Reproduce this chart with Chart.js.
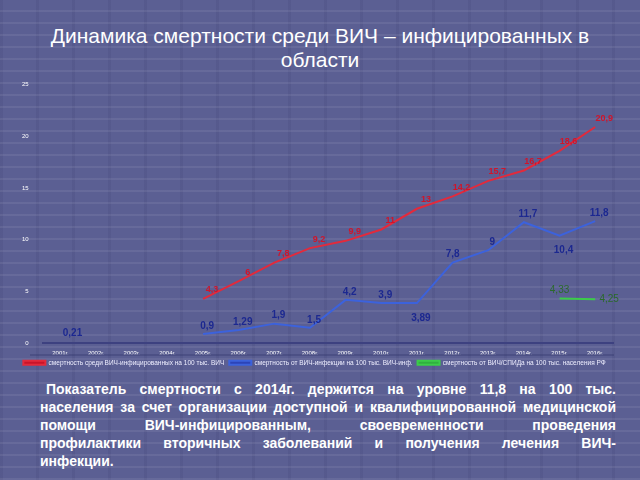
<!DOCTYPE html>
<html>
<head>
<meta charset="utf-8">
<script src="https://cdn.jsdelivr.net/npm/chart.js@4"></script>
<style>
  html, body { margin: 0; padding: 0; }
  body {
    width: 640px; height: 480px; overflow: hidden; position: relative;
    background-color: #5b5f93;
    background-image:
      repeating-linear-gradient(0deg, rgba(255,255,255,0.07) 0 2px, transparent 2px 12px),
      repeating-linear-gradient(90deg, rgba(40,40,90,0.10) 0 3px, transparent 3px 36px);
    font-family: "Liberation Sans", Arial, sans-serif;
  }
  #title {
    position: absolute; left: 10px; top: 24px; width: 620px;
    text-align: center; color: #fff; font-size: 21px; line-height: 24px;
  }
  #wrap { position: absolute; left: 0; top: 75px; width: 640px; height: 301px; }
  #note {
    position: absolute; left: 40px; top: 380px; width: 576px;
    color: #fff; font-weight: bold; font-size: 14px; line-height: 18px;
  }
  #note div { text-align: justify; text-align-last: justify; white-space: nowrap; }
  #note div.first { padding-left: 6px; }
  #note div.last { text-align-last: left; }
</style>
</head>
<body>
<div id="title">Динамика смертности среди ВИЧ – инфицированных в<br>области</div>
<div id="wrap"><canvas id="chart"></canvas></div>
<div id="note">
  <div class="first">Показатель смертности с 2014г. держится на уровне 11,8 на 100 тыс.</div>
  <div>населения за счет организации доступной и квалифицированной медицинской</div>
  <div>помощи ВИЧ-инфицированным, своевременности проведения</div>
  <div>профилактики вторичных заболеваний и получения лечения ВИЧ-</div>
  <div class="last">инфекции.</div>
</div>
<script>
// --- данные ---
const years = ['2001г.', '2002г.', '2003г.', '2004г.', '2005г.', '2006г.', '2007г.', '2008г.',
               '2009г.', '2010г.', '2011г.', '2012г.', '2013г.', '2014г.', '2015г.', '2016г.'];
const totalDeaths = [null, null, null, null, 4.3, 6, 7.8, 9.2, 9.9, 11, 13, 14.2, 15.7, 16.7, 18.6, 20.9];
const hivDeaths = [0.21, null, null, null, 0.9, 1.29, 1.9, 1.5, 4.2, 3.9, 3.89, 7.8, 9, 11.7, 10.4, 11.8];
const rfDeaths = [null, null, null, null, null, null, null, null, null, null, null, null, null, null, 4.33, 4.25];
const totalLabels = ['', '', '', '', '4,3', '6', '7,8', '9,2', '9,9', '11', '13', '14,2', '15,7', '16,7', '18,6', '20,9'];
const hivLabels = ['0,21', '', '', '', '0,9', '1,29', '1,9', '1,5', '4,2', '3,9', '3,89', '7,8', '9', '11,7', '10,4', '11,8'];
const rfLabels = ['', '', '', '', '', '', '', '', '', '', '', '', '', '', '4,33', '4,25'];
const yTicks = [0, 5, 10, 15, 20, 25];
const seriesNames = [
    'смертность среди ВИЧ-инфицированных на 100 тыс. ВИЧ',
    'смертность от ВИЧ-инфекции на 100 тыс. ВИЧ-инф.',
    'смертность от ВИЧ/СПИДа на 100 тыс. населения РФ'
];

// размещение подписей синей линии: под точкой
const hivBelow = [false, false, false, false, false, false, false, false, false, false, true, false, false, false, true, false];

const valueLabels = {
    id: 'valueLabels',
    afterDatasetsDraw(chart) {
        const ctx = chart.ctx;
        const sets = [
            { labels: totalLabels, color: '#d0142a', font: 'bold 9px "Liberation Sans"' },
            { labels: hivLabels, color: '#1c2890', font: 'bold 10px "Liberation Sans"' },
            { labels: rfLabels, color: '#2a6a2a', font: '10px "Liberation Sans"' }
        ];
        ctx.save();
        ctx.textAlign = 'center';
        sets.forEach((s, di) => {
            ctx.fillStyle = s.color;
            ctx.font = s.font;
            s.labels.forEach((txt, i) => {
                if (!txt) return;
                const x = chart.scales.x.getPixelForValue(i);
                const y = chart.scales.y.getPixelForValue(chart.data.datasets[di].data[i]);
                let dx = 0, dy = -8;
                if (di === 0) { dx = 9; dy = -9; }
                if (di === 1) {
                    dx = 4;
                    if (hivBelow[i]) dy = 15;
                    if (i === 0) dx = 12;
                    if (i === 11) dx = 0;
                }
                if (di === 2 && i === 15) { dx = 14; dy = 0; }
                ctx.fillText(txt, x + dx, y + dy);
            });
        });
        ctx.restore();
    }
};

// тонкая линия над легендой
const legendRule = {
    id: 'legendRule',
    afterDraw(chart) {
        const lg = chart.legend;
        if (!lg) return;
        const ctx = chart.ctx;
        ctx.save();
        ctx.strokeStyle = 'rgba(50,54,110,0.7)';
        ctx.lineWidth = 1;
        ctx.beginPath();
        ctx.moveTo(30, lg.top + 0.5);
        ctx.lineTo(614, lg.top + 0.5);
        ctx.stroke();
        ctx.restore();
    }
};

new Chart(document.getElementById('chart'), {
    type: 'line',
    data: {
        labels: years,
        datasets: [
            { label: seriesNames[0], data: totalDeaths, borderColor: '#e22a3c', backgroundColor: '#c8142a', borderWidth: 2, pointRadius: 0, tension: 0 },
            { label: seriesNames[1], data: hivDeaths, borderColor: '#3c62dc', backgroundColor: '#2c44b8', borderWidth: 2, pointRadius: 0, tension: 0 },
            { label: seriesNames[2], data: rfDeaths, borderColor: '#3ccc4a', backgroundColor: '#30b040', borderWidth: 2, pointRadius: 0, tension: 0 }
        ]
    },
    options: {
        responsive: true,
        maintainAspectRatio: false,
        animation: false,
        layout: { padding: { top: 6, right: 27, left: 16, bottom: 0 } },
        plugins: {
            legend: {
                position: 'bottom',
                labels: { color: '#eef', boxWidth: 22, boxHeight: 4, padding: 5, font: { size: 6.5, family: 'Liberation Sans' } }
            },
            tooltip: { enabled: false }
        },
        scales: {
            y: {
                min: 0, max: 25,
                afterBuildTicks(axis) { axis.ticks = yTicks.map(v => ({ value: v })); },
                grid: { display: false },
                border: { display: false },
                ticks: { color: '#fff', font: { size: 6, family: 'Liberation Sans' }, padding: 6 }
            },
            x: {
                offset: true,
                grid: { display: false },
                border: { display: true, color: '#3d4180', width: 2 },
                ticks: { color: '#fff', font: { size: 6, family: 'Liberation Sans' }, maxRotation: 0, autoSkip: false, padding: -2 }
            }
        }
    },
    plugins: [valueLabels, legendRule]
});
</script>
</body>
</html>
